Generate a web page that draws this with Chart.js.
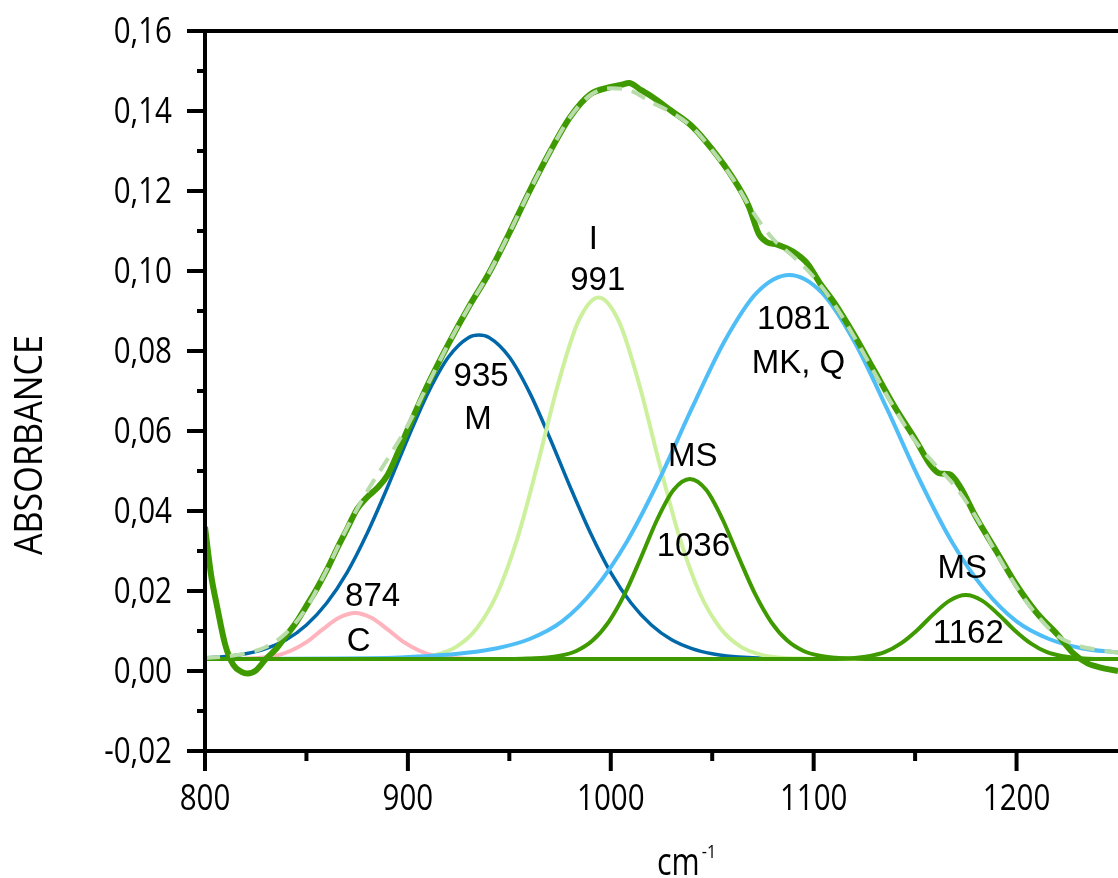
<!DOCTYPE html>
<html><head><meta charset="utf-8">
<script src="https://cdn.jsdelivr.net/npm/chart.js@4.4.1/dist/chart.umd.min.js"></script>
<style>html,body{margin:0;padding:0;background:#fff}#wrap{width:1118px;height:878px}</style>
</head><body><div id="wrap"><canvas id="c" width="1118" height="878"></canvas></div>
<script>
// ---- data ----
const specX = [800,803,806,810,814,818,821,825,830,835,840,845,850,855,860,865,870,875,880,885,890,895,900,910,920,930,940,950,960,970,980,990,1000,1005,1009,1015,1020,1030,1040,1050,1060,1068,1073,1077,1082,1090,1097,1103,1110,1120,1130,1140,1150,1158,1162,1167,1172,1180,1190,1200,1210,1220,1228,1235,1242,1250];
const specY = [0.0360,0.0240,0.0160,0.0065,0.0015,-0.0002,-0.0006,0.0001,0.0030,0.0055,0.0088,0.0122,0.0163,0.0205,0.0252,0.0305,0.0355,0.0405,0.0435,0.0458,0.0490,0.0545,0.0605,0.0718,0.0818,0.0910,0.0995,0.1095,0.1200,0.1298,0.1385,0.1442,0.1460,0.1465,0.1470,0.1452,0.1437,0.1400,0.1362,0.1304,0.1234,0.1162,0.1092,0.1072,0.1066,0.1048,0.1018,0.0970,0.0922,0.0840,0.0750,0.0660,0.0580,0.0512,0.0494,0.0492,0.0462,0.0385,0.0300,0.0215,0.0145,0.0092,0.0044,0.0019,0.0008,0.0000];

const sumX = [800,810,820,830,840,850,860,870,880,890,900,910,920,930,940,950,960,970,980,990,1000,1010,1020,1030,1040,1050,1060,1070,1080,1090,1100,1110,1120,1130,1140,1150,1160,1170,1180,1190,1200,1210,1220,1230,1240,1250];
const sumY = [0.0033,0.0036,0.0044,0.0060,0.0095,0.0158,0.0253,0.0358,0.0450,0.0530,0.0615,0.0718,0.0818,0.0910,0.0995,0.1095,0.1200,0.1298,0.1385,0.1440,0.1457,0.1450,0.1422,0.1396,0.1360,0.1302,0.1232,0.1148,0.1080,0.1036,0.0985,0.0918,0.0835,0.0745,0.0655,0.0575,0.0515,0.0460,0.0385,0.0295,0.0210,0.0140,0.0088,0.0064,0.0053,0.0046];

const cX = [800,814,824,834,842,850,858,866,874,882,890,898,906,914,924,934,1250];
const cY = [0.0030,0.0030,0.0032,0.0037,0.0050,0.0072,0.0104,0.0133,0.0145,0.0133,0.0104,0.0072,0.0050,0.0037,0.0032,0.0030,0.0030];

const mX = [800,810,820,830,840,850,860,870,880,890,900,910,920,930,935,940,950,960,970,980,990,1000,1010,1020,1030,1040,1050,1060,1070,1080,1090,1250];
const mY = [0.0033,0.0036,0.0043,0.0056,0.0078,0.0115,0.0170,0.0246,0.0345,0.0460,0.0582,0.0696,0.0785,0.0834,0.0840,0.0834,0.0785,0.0696,0.0582,0.0460,0.0345,0.0246,0.0170,0.0115,0.0078,0.0056,0.0043,0.0036,0.0033,0.0031,0.0030,0.0030];

const iX = [800,884,894,904,914,924,934,944,954,964,974,984,994,1004,1014,1024,1034,1044,1054,1064,1074,1084,1094,1104,1250];
const iY = [0.0030,0.0030,0.0031,0.0033,0.0041,0.0061,0.0107,0.0193,0.0332,0.0518,0.0717,0.0874,0.0934,0.0874,0.0717,0.0518,0.0332,0.0193,0.0107,0.0061,0.0041,0.0033,0.0031,0.0030,0.0030];

const mkX = [800,864,880,896,912,928,944,960,976,992,1008,1024,1040,1056,1072,1088,1104,1120,1136,1152,1168,1184,1200,1216,1232,1250];
const mkY = [0.0030,0.0031,0.0032,0.0034,0.0038,0.0045,0.0057,0.0080,0.0124,0.0205,0.0324,0.0480,0.0657,0.0824,0.0946,0.0990,0.0946,0.0824,0.0657,0.0480,0.0324,0.0205,0.0124,0.0080,0.0057,0.0046];

const ms1X = [800,951,959,967,975,983,991,999,1007,1015,1023,1031,1039,1047,1055,1063,1071,1079,1087,1095,1103,1111,1119,1127,1250];
const ms1Y = [0.0030,0.0030,0.0031,0.0033,0.0038,0.0050,0.0076,0.0123,0.0194,0.0285,0.0380,0.0453,0.0480,0.0453,0.0380,0.0285,0.0194,0.0123,0.0076,0.0050,0.0038,0.0033,0.0031,0.0030,0.0030];

const ms2X = [800,1111,1119,1127,1135,1143,1151,1159,1167,1175,1183,1191,1199,1207,1215,1223,1231,1239,1250];
const ms2Y = [0.0030,0.0030,0.0032,0.0037,0.0047,0.0069,0.0102,0.0142,0.0176,0.0190,0.0176,0.0142,0.0102,0.0069,0.0047,0.0037,0.0032,0.0030,0.0030];

const labelText = ['874','C','935','M','I','991','1081','MK, Q','MS','1036','MS','1162'];
const labelX = [882.6,875.7,936.1,934.5,991.4,993.6,1090.2,1092.5,1040.4,1040.7,1173.2,1176.2];
const labelY = [0.0184,0.0072,0.0736,0.0627,0.1078,0.0976,0.0877,0.0767,0.0534,0.0309,0.0255,0.0093];

const xTitle = 'cm';
const xTitleSup = '-1';
const yTitle = 'ABSORBANCE';

// ---- helpers ----
const pts = (xs, ys) => xs.map((x, i) => ({x: x, y: ys[i]}));
const AXFONT = "'Open Sans', 'Noto Sans', sans-serif";
const LBLFONT = "'Liberation Sans', Arial, sans-serif";

function line(label, xs, ys, color, width, dash) {
  return {
    label: label, data: pts(xs, ys), borderColor: color, borderWidth: width,
    borderDash: dash || [], pointRadius: 0, fill: false,
    cubicInterpolationMode: 'monotone', borderCapStyle: 'butt', borderJoinStyle: 'round'
  };
}

function yLabel(v) {
  const n = Math.round(v * 100);
  return (n < 0 ? '-' : '') + (Math.abs(n) / 100).toFixed(2).replace('.', ',');
}

function squeezedText(ctx, text, x, y, sx, align) {
  ctx.save();
  ctx.translate(x, y);
  ctx.scale(sx, 1);
  ctx.textAlign = align;
  ctx.textBaseline = 'alphabetic';
  ctx.fillText(text, 0, 0);
  ctx.restore();
}

const deco = {
  id: 'deco',
  afterDatasetsDraw(chart) {
    const {ctx, chartArea: a, scales: {x, y}} = chart;
    ctx.save();
    ctx.strokeStyle = '#000';
    ctx.lineWidth = 4;
    ctx.lineCap = 'butt';
    ctx.beginPath();
    ctx.moveTo(a.left, a.top - 2); ctx.lineTo(a.left, a.bottom);
    ctx.moveTo(a.left, a.bottom); ctx.lineTo(a.right, a.bottom);
    ctx.moveTo(a.left, a.top); ctx.lineTo(a.right, a.top);
    y.ticks.forEach(t => {
      const py = y.getPixelForValue(t.value);
      const major = Math.round(t.value * 100) % 2 === 0;
      ctx.moveTo(a.left - (major ? 18 : 8), py); ctx.lineTo(a.left, py);
    });
    x.ticks.forEach(t => {
      const px = x.getPixelForValue(t.value);
      if (px > a.right - 2) return;
      const major = Math.round(t.value) % 100 === 0;
      ctx.moveTo(px, a.bottom); ctx.lineTo(px, a.bottom + (major ? 20 : 10));
    });
    ctx.stroke();

    ctx.fillStyle = '#000';
    // tick labels
    ctx.font = '36px ' + AXFONT;
    y.ticks.forEach(t => {
      if (Math.round(t.value * 100) % 2 !== 0) return;
      squeezedText(ctx, yLabel(t.value), a.left - 33, y.getPixelForValue(t.value) + 11.5, 0.82, 'right');
    });
    x.ticks.forEach(t => {
      if (Math.round(t.value) % 100 !== 0) return;
      squeezedText(ctx, String(Math.round(t.value)), x.getPixelForValue(t.value), a.bottom + 59, 0.82, 'center');
    });

    // peak labels
    ctx.font = '33px ' + LBLFONT;
    ctx.textAlign = 'center';
    ctx.textBaseline = 'middle';
    labelText.forEach((s, i) => {
      ctx.fillText(s, x.getPixelForValue(labelX[i]), y.getPixelForValue(labelY[i]));
    });

    // axis titles
    ctx.font = '38px ' + AXFONT;
    ctx.save();
    ctx.translate(42, 445);
    ctx.rotate(-Math.PI / 2);
    ctx.scale(0.9, 1);
    ctx.textAlign = 'center';
    ctx.textBaseline = 'alphabetic';
    ctx.fillText(yTitle, 0, 0);
    ctx.restore();

    ctx.font = '38px ' + AXFONT;
    squeezedText(ctx, xTitle, 657, 875, 0.8, 'left');
    const w = ctx.measureText(xTitle).width * 0.8;
    ctx.font = '19px ' + AXFONT;
    squeezedText(ctx, xTitleSup, 657 + w + 2, 858, 0.85, 'left');
    ctx.restore();
  }
};

new Chart(document.getElementById('c'), {
  type: 'line',
  data: {
    datasets: [
      line('Cumulative fit', sumX, sumY, '#b9dcab', 4, [15, 10]),
      line('Spectrum', specX, specY, '#3f9a00', 6),
      line('MS 1162', ms2X, ms2Y, '#3f9a00', 4),
      line('MS 1036', ms1X, ms1Y, '#3f9a00', 4),
      line('MK, Q 1081', mkX, mkY, '#4fbef7', 4),
      line('I 991', iX, iY, '#cdf09d', 4),
      line('M 935', mX, mY, '#0068a9', 3.5),
      line('C 874', cX, cY, '#ffb3bd', 4)
    ]
  },
  options: {
    responsive: false,
    animation: false,
    devicePixelRatio: 1,
    layout: {padding: {top: 31, right: 0, left: 0, bottom: 0}},
    plugins: {legend: {display: false}, tooltip: {enabled: false}},
    scales: {
      x: {
        type: 'linear', min: 800, max: 1250,
        afterFit: s => { s.height = 127; s.paddingLeft = 0; s.paddingRight = 0; s.paddingTop = 0; s.paddingBottom = 0; },
        grid: {display: false, drawTicks: false},
        border: {display: false},
        ticks: {stepSize: 50, autoSkip: false, display: false}
      },
      y: {
        type: 'linear', min: -0.02, max: 0.16,
        afterFit: s => { s.width = 205; s.paddingLeft = 0; s.paddingRight = 0; s.paddingTop = 0; s.paddingBottom = 0; },
        grid: {display: false, drawTicks: false},
        border: {display: false},
        ticks: {stepSize: 0.01, autoSkip: false, display: false}
      }
    }
  },
  plugins: [deco]
});
</script>
</body></html>
